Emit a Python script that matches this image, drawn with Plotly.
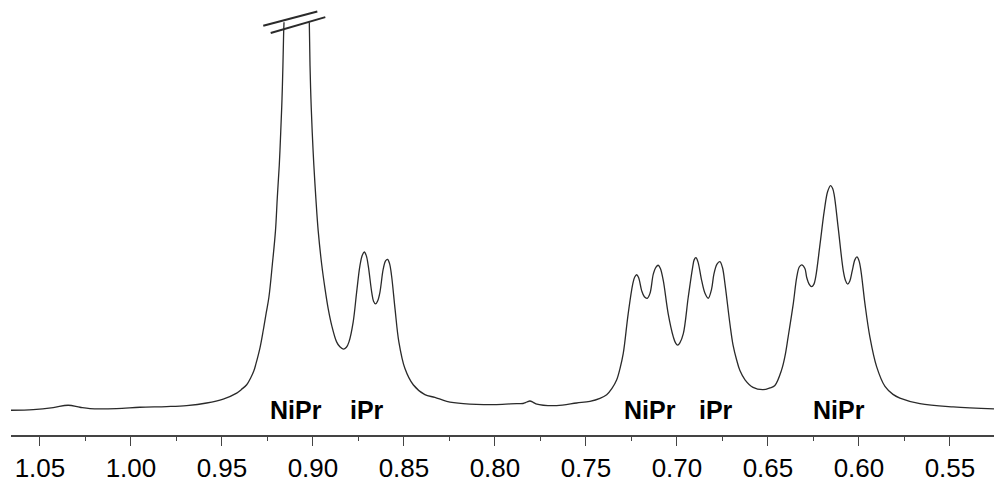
import plotly.graph_objects as go

# 1H NMR trace (chemical shift in ppm, relative intensity).
# The tall doublet near 0.91 ppm is truncated (broken) at the top.
shift_ppm = [
    1.0659, 1.0537, 1.0427, 1.0345, 1.0280, 1.0225, 1.0079, 0.9951, 0.9804, 0.9694,
    0.9584, 0.9493, 0.9419, 0.9393, 0.9364, 0.9341, 0.9324, 0.9313, 0.9291, 0.9273,
    0.9257, 0.9242, 0.9223, 0.9206, 0.9196, 0.9185, 0.9177, 0.9170, 0.9165, 0.9161,
    0.9159,
    None,
    0.9020, 0.9016, 0.9011, 0.9004, 0.8995, 0.8984, 0.8971, 0.8952, 0.8934, 0.8916,
    0.8897, 0.8870, 0.8852, 0.8833, 0.8816, 0.8802, 0.8779, 0.8760, 0.8742, 0.8729,
    0.8718, 0.8707, 0.8696, 0.8677, 0.8667, 0.8656, 0.8644, 0.8632, 0.8614, 0.8601,
    0.8590, 0.8579, 0.8568, 0.8549, 0.8528, 0.8495, 0.8449, 0.8385, 0.8330, 0.8265,
    0.8174, 0.7991, 0.7881, 0.7846, 0.7825, 0.7808, 0.7790, 0.7775, 0.7661, 0.7551,
    0.7478, 0.7423, 0.7386, 0.7357, 0.7331, 0.7313, 0.7295, 0.7268, 0.7243, 0.7232,
    0.7221, 0.7210, 0.7194, 0.7179, 0.7163, 0.7148, 0.7130, 0.7115, 0.7103, 0.7091,
    0.7075, 0.7048, 0.7020, 0.7008, 0.6996, 0.6984, 0.6965, 0.6938, 0.6914, 0.6905,
    0.6896, 0.6885, 0.6864, 0.6846, 0.6828, 0.6810, 0.6797, 0.6780, 0.6764, 0.6750,
    0.6736, 0.6709, 0.6692, 0.6672, 0.6654, 0.6626, 0.6582, 0.6527, 0.6489, 0.6462,
    0.6425, 0.6407, 0.6389, 0.6361, 0.6342, 0.6328, 0.6315, 0.6297, 0.6287, 0.6273,
    0.6260, 0.6248, 0.6238, 0.6214, 0.6191, 0.6172, 0.6156, 0.6145, 0.6136, 0.6114,
    0.6086, 0.6074, 0.6062, 0.6050, 0.6037, 0.6022, 0.6011, 0.6000, 0.5989, 0.5967,
    0.5940, 0.5903, 0.5857, 0.5813, 0.5775, 0.5665, 0.5482, 0.5258,
]
intensity = [
    25.0, 25.7, 27.7, 30.0, 28.0, 26.7, 26.7, 28.0, 28.7, 29.7,
    32.3, 36.3, 42.3, 46.0, 50.7, 58.0, 65.0, 72.0, 88.0, 105.7,
    123.0, 139.0, 172.3, 205.7, 239.0, 272.3, 305.7, 339.0, 372.3, 405.7,
    416.5,
    None,
    416.5, 372.3, 339.0, 305.7, 272.3, 239.0, 205.7, 172.3, 148.0, 127.3,
    110.7, 94.0, 89.0, 86.7, 88.5, 94.0, 114.0, 144.0, 170.7, 181.5,
    184.7, 181.0, 170.7, 144.0, 135.0, 132.3, 135.5, 144.0, 167.3, 175.7,
    177.3, 173.0, 160.7, 127.3, 94.0, 67.3, 50.7, 40.7, 38.0, 34.0,
    31.7, 30.7, 31.7, 31.8, 33.3, 34.3, 33.0, 31.5, 29.7, 32.3,
    34.0, 37.0, 40.7, 47.0, 55.7, 67.0, 82.3, 122.3, 152.3, 159.5,
    161.7, 158.5, 145.7, 139.5, 138.0, 143.0, 162.3, 169.5, 171.3, 168.0,
    155.7, 122.3, 99.0, 93.0, 90.7, 93.0, 102.3, 139.0, 169.0, 177.0,
    179.0, 175.0, 155.7, 143.0, 138.0, 147.0, 162.3, 172.5, 175.0, 169.0,
    152.3, 112.3, 91.0, 75.7, 65.0, 55.7, 48.0, 45.7, 47.5, 50.0,
    65.7, 79.0, 99.0, 132.3, 159.0, 169.5, 171.7, 168.0, 159.0, 152.0,
    149.7, 152.0, 159.0, 192.3, 225.7, 245.7, 251.7, 249.0, 242.3, 209.0,
    165.7, 156.0, 152.3, 155.5, 165.7, 177.0, 179.7, 176.0, 165.7, 132.3,
    99.0, 69.0, 49.0, 41.0, 37.3, 31.7, 28.3, 26.3,
]

# Peak assignment labels
label_text = ["NiPr", "iPr", "NiPr", "iPr", "NiPr"]
label_ppm = [0.9093, 0.8705, 0.7148, 0.6783, 0.6110]
label_level = 25

# x-axis ticks
tick_vals = [1.05, 1.00, 0.95, 0.90, 0.85, 0.80, 0.75, 0.70, 0.65, 0.60, 0.55]
tick_text = ["%.2f" % v for v in tick_vals]

x_range = [1.0659, 0.5258]
y_range = [0, 439]

# axis-break marks on the truncated peak: (ppm0, int0, ppm1, int1)
break_marks = [
    (0.9273, 413.0, 0.8976, 427.3),
    (0.9232, 405.7, 0.8932, 421.7),
]

fig = go.Figure()
fig.add_trace(go.Scatter(
    x=shift_ppm, y=intensity, mode="lines",
    line=dict(color="#2a2a2a", width=1.3, shape="spline", smoothing=1.0),
    connectgaps=False, hoverinfo="skip", showlegend=False,
))

for x0, y0, x1, y1 in break_marks:
    fig.add_shape(type="line", x0=x0, y0=y0, x1=x1, y1=y1, xref="x", yref="y",
                  line=dict(color="#2a2a2a", width=2))

for t, xv in zip(label_text, label_ppm):
    fig.add_annotation(x=xv, y=label_level, xref="x", yref="y", text="<b>%s</b>" % t,
                       showarrow=False, xanchor="center", yanchor="middle",
                       font=dict(family="Liberation Sans, Arial", size=25, color="#000"))

fig.update_layout(
    width=994, height=483,
    margin=dict(l=11, r=0, t=0, b=44, pad=0),
    paper_bgcolor="white", plot_bgcolor="white",
    xaxis=dict(
        range=x_range, showgrid=False, zeroline=False,
        showline=True, linecolor="#444", linewidth=1.5,
        ticks="outside", ticklen=9, tickwidth=1.3, tickcolor="#444",
        tickvals=tick_vals, ticktext=tick_text,
        tickfont=dict(family="Liberation Sans, Arial", size=26, color="#000"),
        minor=dict(ticks="outside", ticklen=4, tickwidth=1.2, tickcolor="#444", dtick=0.025, tick0=0.55),
    ),
    yaxis=dict(range=y_range, visible=False),
)

fig.write_html("out.html")
